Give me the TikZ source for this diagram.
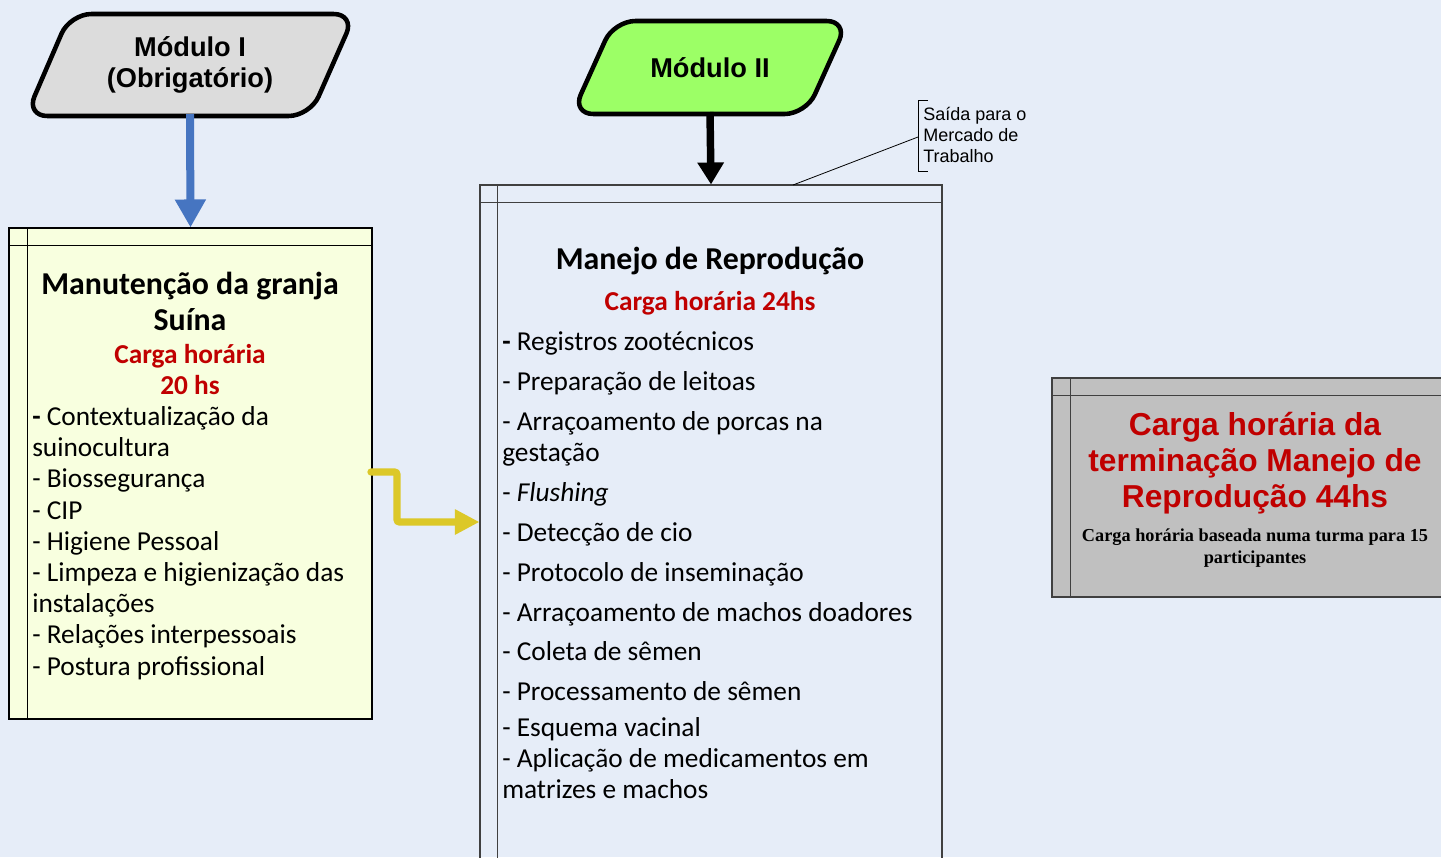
\documentclass[tikz,border=0pt]{standalone}
\usepackage{fontspec}
\setmainfont{Carlito}
\newfontfamily\arialf{Liberation Sans}
\newfontfamily\timesf{Liberation Serif}
\usetikzlibrary{arrows.meta}
\definecolor{bg}{HTML}{E6EDF8}
\definecolor{yfill}{HTML}{F8FFDF}
\definecolor{gfill}{HTML}{C0C0C0}
\definecolor{mgreen}{HTML}{9CFF66}
\definecolor{mgrey}{HTML}{DCDCDC}
\definecolor{ablue}{HTML}{4675C1}
\definecolor{ayellow}{HTML}{DCC828}
\definecolor{dred}{HTML}{C00000}
\tikzset{
  modshape/.style={line width=3.4pt, rounded corners=16pt},
  modtext/.style={font=\arialf\bfseries\fontsize{20.4}{23.25}\selectfont, align=center, inner sep=0},
  boxline/.style={line width=0.8pt},
  ln/.style={anchor=base west, inner sep=0, yshift=-7.4pt, font=\fontsize{20.5}{24}\selectfont},
  ttl/.style={anchor=base, inner sep=0, yshift=-7.9pt, font=\bfseries\fontsize{23.9}{28}\selectfont},
  red/.style={anchor=base, inner sep=0, yshift=-7.4pt, text=dred, font=\bfseries\fontsize{20.5}{24}\selectfont},
  gt/.style={anchor=base, inner sep=0, yshift=-8.1pt, text=dred, font=\arialf\bfseries\fontsize{23.8}{28}\selectfont},
  gs/.style={anchor=base, inner sep=0, yshift=-5.2pt, font=\timesf\bfseries\fontsize{13.7}{16}\selectfont},
  ann/.style={anchor=base west, inner sep=0, yshift=-5.1pt, font=\arialf\fontsize{13.5}{16}\selectfont},
}
\begin{document}
\begin{tikzpicture}[x=0.75pt,y=-0.75pt]
\useasboundingbox (0,0) rectangle (1441,857);
\fill[bg] (0,0) rectangle (1441,857);

% Module I
\draw[modshape, fill=mgrey] (70,14) -- (355,14) -- (310,116) -- (26,116) -- cycle;
\node[modtext] (m1) at (190,65) {Módulo I\\(Obrigatório)};
\coordinate (m1b) at (190,114);

% Module II
\draw[modshape, fill=mgreen] (614,21) -- (848,21) -- (806,114) -- (572,114) -- cycle;
\node[modtext] (m2) at (710,68) {Módulo II};
\coordinate (m2b) at (710,112);

% Left box
\node[boxline, draw=black, fill=yfill, minimum width=272.25pt, minimum height=368.25pt, inner sep=0] (box1) at (190.5,473.5) {};
\draw[boxline] ([xshift=14.25pt]box1.north west) -- ([xshift=14.25pt]box1.south west);
\draw[boxline] ([yshift=-13.5pt]box1.north west) -- ([yshift=-13.5pt]box1.north east);

% Middle box
\node[boxline, draw=black!75, minimum width=346.5pt, minimum height=521.25pt, inner sep=0] (box2) at (711,532.5) {};
\draw[boxline, black!75] ([xshift=13.5pt]box2.north west) -- ([xshift=13.5pt]box2.south west);
\draw[boxline, black!75] ([yshift=-13.5pt]box2.north west) -- ([yshift=-13.5pt]box2.north east);

% Grey box
\node[boxline, draw=black!75, fill=gfill, minimum width=306pt, minimum height=164.25pt, inner sep=0] (box3) at (1256,487.5) {};
\draw[boxline, black!75] ([xshift=14.25pt]box3.north west) -- ([xshift=14.25pt]box3.south west);
\draw[boxline, black!75] ([yshift=-13.5pt]box3.north west) -- ([yshift=-13.5pt]box3.north east);

% Arrows
\draw[ablue, line width=6pt, -{Triangle[width=22pt,length=21pt]}] (m1b) -- (box1.north);
\draw[black, line width=5.6pt, -{Triangle[width=19pt,length=16.5pt]}] (m2b) -- (box2.north);
\coordinate (ya) at (371,472);
\draw[ayellow, line width=5.5pt, line cap=round, rounded corners=2pt, -{Triangle[width=18pt,length=18.5pt]}] (ya) -| (397,522) -- (box2.west |- 0,522);

% Annotation
\draw[line width=0.6pt] (928,100) -- (918,100) -- (918,171) -- (928,171);
\coordinate (annl) at (918,137);
\coordinate (annt) at (793,185);
\draw[line width=0.6pt] (annl) -- (annt);
\node[ann] (a1) at (923,114) {Saída para o};
\node[ann] (a2) at (923,135) {Mercado de};
\node[ann] (a3) at (923,156) {Trabalho};

% Left box text
\node[ttl] (t1) at (190,284) {Manutenção da granja};
\node[ttl] (t2) at (190,320) {Suína};
\node[red] (r1) at (190,354) {Carga horária};
\node[red] (r2) at (190,385) {20 hs};
\node[ln] (l1) at (32,416) {\textbf{-} Contextualização da};
\node[ln] (l2) at (32,447) {suinocultura};
\node[ln] (l3) at (32,478) {- Biossegurança};
\node[ln] (l4) at (32,510) {- CIP};
\node[ln] (l5) at (32,541) {- Higiene Pessoal};
\node[ln] (l6) at (32,572) {- Limpeza e higienização das};
\node[ln] (l7) at (32,603) {instalações};
\node[ln] (l8) at (32,634) {- Relações interpessoais};
\node[ln] (l9) at (32,666) {- Postura profissional};

% Middle box text
\node[ttl] (t3) at (710,259) {Manejo de Reprodução};
\node[red] (r3) at (710,301) {Carga horária 24hs};
\node[ln] (m01) at (502,341) {\textbf{-} Registros zootécnicos};
\node[ln] (m02) at (502,381) {- Preparação de leitoas};
\node[ln] (m03) at (502,421) {- Arraçoamento de porcas na};
\node[ln] (m04) at (502,452) {gestação};
\node[ln] (m05) at (502,492) {- \textit{Flushing}};
\node[ln] (m06) at (502,532) {- Detecção de cio};
\node[ln] (m07) at (502,572) {- Protocolo de inseminação};
\node[ln] (m08) at (502,612) {- Arraçoamento de machos doadores};
\node[ln] (m09) at (502,651) {- Coleta de sêmen};
\node[ln] (m10) at (502,691) {- Processamento de sêmen};
\node[ln] (m11) at (502,727) {- Esquema vacinal};
\node[ln] (m12) at (502,758) {- Aplicação de medicamentos em};
\node[ln] (m13) at (502,789) {matrizes e machos};

% Grey box text
\node[gt] (g1) at (1255,425) {Carga horária da};
\node[gt] (g2) at (1255,461) {terminação Manejo de};
\node[gt] (g3) at (1255,497) {Reprodução 44hs};
\node[gs] (g4) at (1255,535) {Carga horária baseada numa turma para 15};
\node[gs] (g5) at (1255,557) {participantes};
\end{tikzpicture}
\end{document}
